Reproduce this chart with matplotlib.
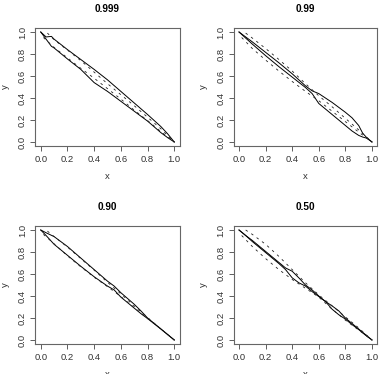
import matplotlib
matplotlib.use("Agg")
import matplotlib.pyplot as plt

plt.rcParams["font.family"] = ["Liberation Sans", "DejaVu Sans"]

titles = ["0.999", "0.99", "0.90", "0.50"]

# solid envelopes (upper / lower), one x grid per panel
x_999 = [0, .04, .08, .1, .2, .3, .4, .5, .6, .7, .8, .9, .95, 1]
su_999 = [1, .955, .96, .935, .84, .75, .66, .565, .46, .355, .25, .14, .075, 0]
sl_999 = [1, .935, .87, .855, .755, .66, .54, .46, .37, .28, .19, .085, .04, 0]

x_99 = [0, .1, .2, .3, .4, .5, .55, .6, .7, .8, .85, .9, .93, .96, 1]
su_99 = [1, .91, .815, .72, .62, .51, .465, .44, .36, .27, .22, .15, .08, .04, 0]
sl_99 = [1, .89, .785, .685, .59, .495, .44, .35, .25, .15, .1, .06, .045, .035, 0]

x_90 = [0, .04, .1, .2, .3, .4, .5, .55, .6, .7, .75, .8, .9, 1]
su_90 = [1, .975, .94, .85, .745, .64, .535, .49, .43, .325, .265, .2, .1, 0]
sl_90 = [1, .95, .87, .77, .67, .575, .49, .455, .39, .29, .24, .195, .1, 0]

x_50 = [0, .05, .1, .2, .3, .35, .4, .45, .5, .55, .6, .65, .7, .75, .8, .85, .9, .95, 1]
su_50 = [1, .95, .905, .805, .705, .655, .625, .565, .5, .455, .4, .35, .31, .265, .2, .15, .1, .05, 0]
sl_50 = [1, .95, .895, .795, .695, .64, .565, .52, .49, .44, .395, .35, .28, .23, .19, .14, .095, .045, 0]

# dashed reference bands
xdu = [.05, .1, .2, .3, .4, .5, .6, .7, .8, .9, 1]
xdl = [.02, .1, .2, .3, .4, .5, .6, .7, .8, .9, 1]
du_999 = [.99, .93, .835, .74, .635, .53, .43, .33, .225, .12, 0]
dl_999 = [.95, .86, .765, .67, .58, .485, .39, .29, .195, .095, 0]
du_99 = [.99, .945, .85, .75, .645, .53, .42, .32, .215, .11, 0]
dl_99 = [.95, .85, .745, .645, .55, .46, .375, .28, .185, .09, 0]
du_90 = [.99, .94, .845, .74, .635, .525, .42, .31, .205, .1, 0]
dl_90 = [.96, .875, .765, .665, .57, .485, .395, .295, .195, .1, 0]
du_50 = [1.0, .96, .87, .76, .64, .52, .41, .31, .21, .11, 0]
dl_50 = [.95, .85, .74, .64, .55, .47, .39, .28, .18, .09, 0]

panels = [
    (x_999, su_999, sl_999, du_999, dl_999),
    (x_99, su_99, sl_99, du_99, dl_99),
    (x_90, su_90, sl_90, du_90, dl_90),
    (x_50, su_50, sl_50, du_50, dl_50),
]

W, H = 381, 374
fig = plt.figure(figsize=(W / 100, H / 100), dpi=100)

# box positions in pixels: left, top, right, bottom
boxes = [
    (35.4, 27.6, 179.6, 146.4),
    (233.7, 27.6, 377.3, 146.4),
    (35.4, 225.6, 179.6, 344.4),
    (233.7, 225.6, 377.3, 344.4),
]

ticks = [0, .2, .4, .6, .8, 1.0]
ticklabels = ["0.0", "0.2", "0.4", "0.6", "0.8", "1.0"]

for (l, t, r, b), title, (x, su, sl, du, dl) in zip(boxes, titles, panels):
    ax = fig.add_axes([l / W, 1 - b / H, (r - l) / W, (b - t) / H])
    ax.plot(x, su, color="black", lw=0.7)
    ax.plot(x, sl, color="black", lw=0.7)
    ax.plot(xdu, du, color="#222222", lw=0.6, ls=(0, (3, 5)))
    ax.plot(xdl, dl, color="#222222", lw=0.6, ls=(0, (3, 5)))
    ax.set_xlim(-0.04, 1.04)
    ax.set_ylim(-0.04, 1.04)
    ax.set_xticks(ticks)
    ax.set_xticklabels(ticklabels)
    ax.set_yticks(ticks)
    ax.set_yticklabels(ticklabels, rotation=90, va="center")
    ax.tick_params(direction="out", length=3.6, width=0.6, pad=2.4,
                   labelsize=6.8, color="#444444", labelcolor="#333333")
    for s in ax.spines.values():
        s.set_linewidth(0.8)
        s.set_color("#666666")
    ax.set_title(title, fontsize=7.2, fontweight="bold", pad=11)
    ax.set_xlabel("x", fontsize=6.8, color="#333333")
    ax.set_ylabel("y", fontsize=6.8, color="#333333")
    ax.xaxis.set_label_coords(0.5, -30 / (b - t))
    ax.xaxis.label.set_va("center")
    ax.yaxis.set_label_coords(-30 / (r - l), 0.5)
    ax.yaxis.label.set_va("center")

fig.savefig("out.png", dpi=100)
